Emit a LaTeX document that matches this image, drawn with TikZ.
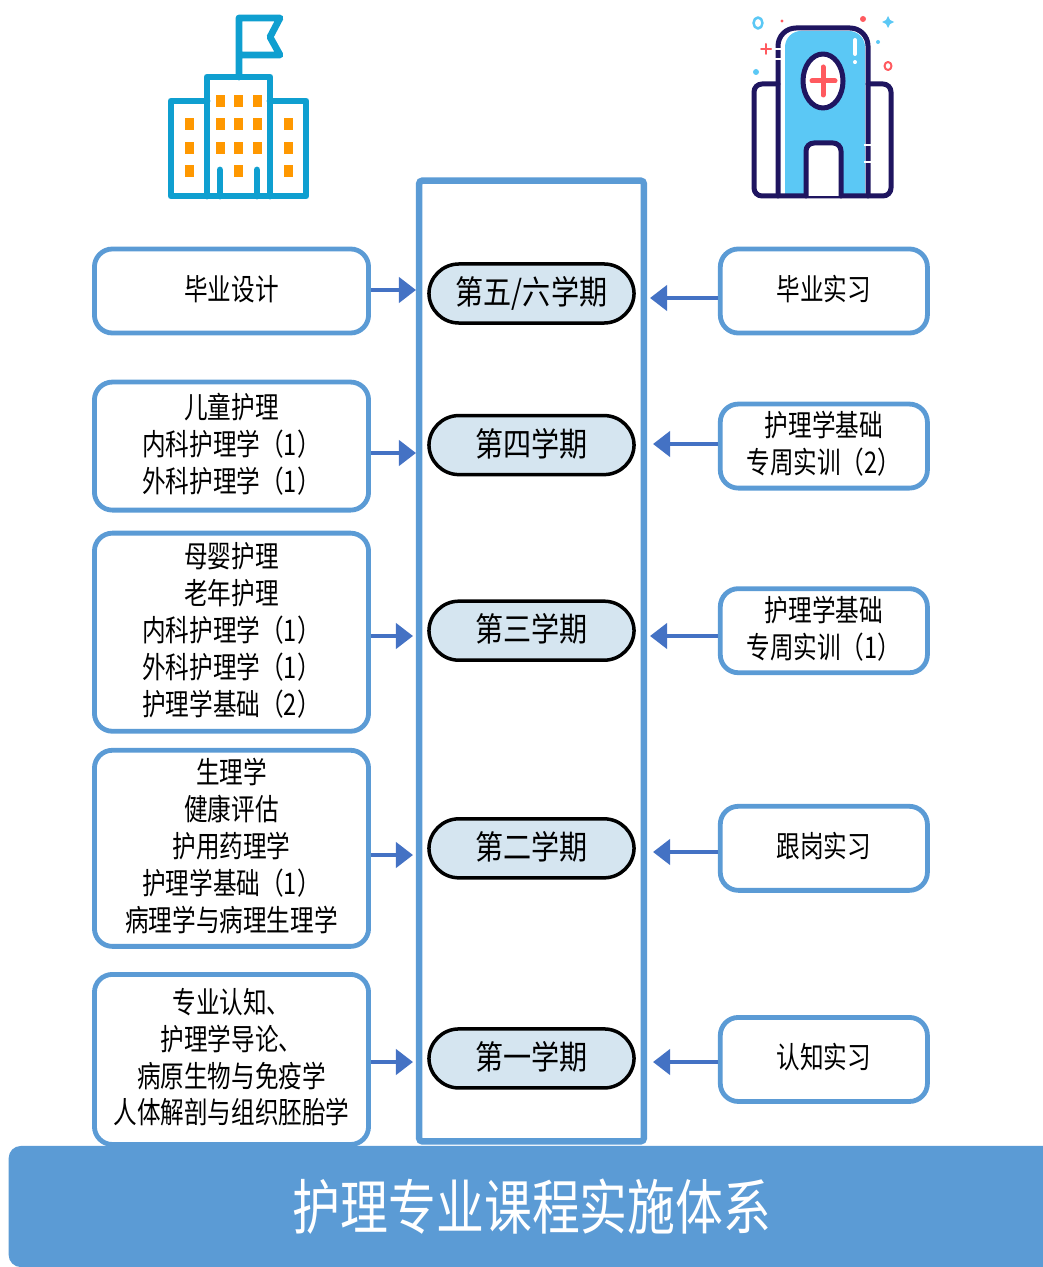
\documentclass[tikz,border=0pt]{standalone}
\usepackage{fontspec}
\usepackage{tikz}
\usetikzlibrary{positioning,arrows.meta}
\newfontfamily\boxfont[FakeStretch=0.79]{Noto Sans CJK SC}
\newfontfamily\pillfont[FakeStretch=0.85]{Noto Sans CJK SC}
\newfontfamily\barfont[FakeStretch=0.8]{Noto Sans CJK SC}
\definecolor{barblue}{HTML}{5B9BD5}
\definecolor{flowblue}{HTML}{4472C4}
\definecolor{pillblue}{HTML}{D5E5F0}
\definecolor{bldblue}{HTML}{0F9FD0}
\definecolor{bldorange}{HTML}{FF9800}
\definecolor{hospnavy}{HTML}{1F1560}
\definecolor{hospblue}{HTML}{5BC8F5}
\definecolor{hospred}{HTML}{FF5A5F}

\begin{document}
\begin{tikzpicture}[x=0.01cm,y=-0.01cm,on grid]
    \tikzset{course/.style={draw=barblue,fill=white,line width=0.048cm,rounded corners=0.18cm,align=center,inner ysep=0pt,
        minimum width=2.74cm,font=\boxfont\fontsize{8.5pt}{10.5pt}\selectfont,
        execute at end node={\rule[-0.07cm]{0pt}{0.07cm}}}}
    \tikzset{train/.style={course,minimum width=2.07cm,minimum height=0.84cm}}
    \tikzset{term/.style={draw=black,fill=pillblue,line width=0.035cm,rounded corners=0.3cm,
        minimum width=2.05cm,minimum height=0.59cm,font=\pillfont\fontsize{9.4pt}{11pt}\selectfont,
        execute at end node={\rule[-0.06cm]{0pt}{0.06cm}}}}
    \tikzset{flow/.style={-{Triangle[length=0.17cm,width=0.25cm,fill=flowblue]},draw=flowblue,line width=0.04cm}}
    \useasboundingbox (0,0) rectangle (1042,1267);

    % building
    \begin{scope}[draw=bldblue,line width=0.068cm,line join=round,line cap=round]
    \draw (207,101) -- (171,101) -- (171,196) -- (306,196) -- (306,101) -- (270,101);
    \draw (207,196) -- (207,77) -- (270,77) -- (270,196);
    \draw (239,77) -- (239,18) -- (280,18) -- (270,37) -- (280,55) -- (239,55);
    \draw (220,196) -- (220,170);
    \draw (257,196) -- (257,170);
    \end{scope}
    \foreach \x/\y in {220/101,238/101,257/101,220/124,238/124,257/124,220/148,238/148,257/148,238/171,
        189/124,189/148,189/171,288/124,288/148,288/171}
        \fill[bldorange] (\x-4.5,\y-6) rectangle (\x+4.5,\y+6);

    % hospital
    \begin{scope}[draw=hospnavy,line width=0.05cm,line join=round,line cap=round]
    \fill[hospblue] (785,196) -- (785,50) [rounded corners=0.16cm] -- (785,31) -- (865,31) [sharp corners] -- (865,196) -- cycle;
    \draw[rounded corners=0.18cm] (778,196) -- (778,28) -- (868,28) -- (868,196);
    \draw[rounded corners=0.08cm] (778,84) -- (754,84) -- (754,196) -- (891,196) -- (891,84) -- (868,84);
    \draw[fill=white,rounded corners=0.08cm] (806,196) -- (806,143) -- (841,143) -- (841,196);
    \draw[fill=white] (823,81) ellipse [x radius=20,y radius=27];
    \draw[hospred,line width=0.05cm] (812,81) -- (835,81) (823,67) -- (823,95);
    \draw[white,line width=0.04cm] (855,40) -- (855,54) (855,62) -- (855,62.1);
    \draw[white,line width=0.025cm,line cap=butt] (774,49) -- (782,49) (774,59) -- (782,59) (864,145) -- (872,145) (864,162) -- (872,162);
    \draw[hospred,line width=0.02cm] (761,49) -- (771,49) (766,44) -- (766,54);
    \draw[hospblue,line width=0.025cm] (758,23) ellipse [x radius=4.5,y radius=5.5];
    \draw[hospred,line width=0.02cm] (888,66) ellipse [x radius=3.5,y radius=4];
    \end{scope}
    \fill[hospred] (782,21) circle [radius=1.6] (863,19) circle [radius=3];
    \fill[hospblue] (878,42) circle [radius=2] (756,72) circle [radius=3];
    \fill[hospblue] (888,16) -- (890,20) -- (894,22) -- (890,24) -- (888,28) -- (886,24) -- (882,22) -- (886,20) -- cycle;

    \node[draw=barblue,line width=0.065cm,rounded corners=0.03cm,minimum width=2.245cm,minimum height=9.6cm] (col) at (531.5,661) {};

    \node[term] (s5) at (531.5,293.5) {第五/六学期};
    \node[term] (s4) [below = 1.515cm of s5] {第四学期};
    \node[term] (s3) [below = 1.855cm of s4] {第三学期};
    \node[term] (s2) [below = 2.175cm of s3] {第二学期};
    \node[term] (s1) [below = 2.1cm of s2] {第一学期};

    \node[course,minimum height=0.84cm] (biye) at (231.5,291) {毕业设计};
    \node[course,minimum height=1.28cm] (ertong) [below = 1.55cm of biye] {儿童护理\\内科护理学（1）\\外科护理学（1）};
    \node[course,minimum height=1.98cm] (muying) [below = 1.86cm of ertong] {母婴护理\\老年护理\\内科护理学（1）\\外科护理学（1）\\护理学基础（2）};
    \node[course,minimum height=1.96cm] (shengli) [below = 2.16cm of muying] {生理学\\健康评估\\护用药理学\\护理学基础（1）\\病理学与病理生理学};
    \node[course,minimum height=1.7cm] (renzhi) [below = 2.11cm of shengli] {专业认知、\\护理学导论、\\病原生物与免疫学\\人体解剖与组织胚胎学};

    \node[train] (shixi) [right = 5.92cm of biye] {毕业实习};
    \node[train] (shixun2) [right = 5.92cm of ertong] {护理学基础\\专周实训（2）};
    \node[train] (shixun1) [below = 1.845cm of shixun2] {护理学基础\\专周实训（1）};
    \node[train] (gangwei) [right = 5.92cm of shengli] {跟岗实习};
    \node[train] (jianxi) [right = 5.92cm of renzhi] {认知实习};

    \coordinate (a5) at (416,290);
    \coordinate (a4) at (416,453);
    \coordinate (a3) at (413,636);
    \coordinate (a2) at (413,855);
    \coordinate (a1) at (413,1062);
    \coordinate (b5) at (650,298);
    \coordinate (b4) at (653,444);
    \coordinate (b3) at (650,636);
    \coordinate (b2) at (653,852);
    \coordinate (b1) at (653,1062);

    \path
    (biye.east |- a5) edge [flow] (a5)
    (ertong.east |- a4) edge [flow] (a4)
    (muying.east |- a3) edge [flow] (a3)
    (shengli.east |- a2) edge [flow] (a2)
    (renzhi.east |- a1) edge [flow] (a1)
    (shixi.west |- b5) edge [flow] (b5)
    (shixun2.west |- b4) edge [flow] (b4)
    (shixun1.west |- b3) edge [flow] (b3)
    (gangwei.west |- b2) edge [flow] (b2)
    (jianxi.west |- b1) edge [flow] (b1);

    \node[fill=barblue,text=white,rounded corners=0.12cm,minimum width=10.46cm,minimum height=1.21cm,
        font=\barfont\fontsize{17pt}{20pt}\selectfont] (title) at (532,1206.5) {护理专业课程实施体系};
\end{tikzpicture}
\end{document}
